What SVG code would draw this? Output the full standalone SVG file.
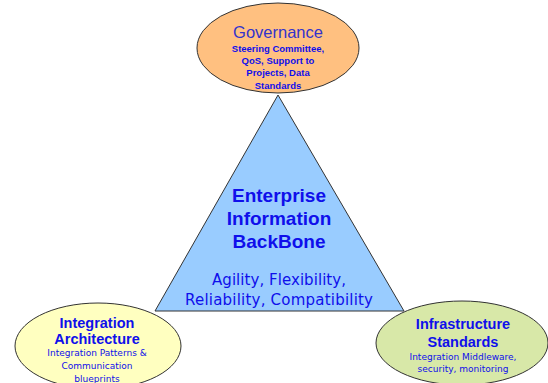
<svg xmlns="http://www.w3.org/2000/svg" width="548" height="383" viewBox="0 0 548 383">
<style>
.shape{stroke:#333333;stroke-width:1}
.t{font-family:"DejaVu Sans",Verdana,sans-serif;fill:#0F0FEB;text-anchor:middle}
.b{font-family:"Liberation Sans",Arial,sans-serif;font-weight:bold}
</style>
<rect width="548" height="383" fill="#FFFFFF"/>
<g id="connectors"></g>
<g id="backbone">
<polygon class="shape" points="278,95 155,311 404,311" fill="#99CCFF"/>
<text class="t b" x="279" y="202" font-size="19">Enterprise</text>
<text class="t b" x="279" y="225" font-size="19">Information</text>
<text class="t b" x="279" y="248" font-size="19">BackBone</text>
<text class="t" x="279" y="285" font-size="15" textLength="134">Agility, Flexibility,</text>
<text class="t" x="279" y="305" font-size="15" textLength="188">Reliability, Compatibility</text>
</g>
<g id="governance">
<ellipse class="shape" cx="278" cy="48" rx="81" ry="45" fill="#FFC080"/>
<text class="t" x="278" y="38" font-size="16.5" style="fill:#3333CC;font-family:'Liberation Sans',Arial,sans-serif">Governance</text>
<text class="t b" x="278" y="52" font-size="9.5">Steering Committee,</text>
<text class="t b" x="278" y="64" font-size="9.5">QoS, Support to</text>
<text class="t b" x="278" y="76" font-size="9.5">Projects, Data</text>
<text class="t b" x="278" y="89" font-size="9.5">Standards</text>
</g>
<g id="integration-architecture">
<ellipse class="shape" cx="98" cy="346" rx="83" ry="43" fill="#FFFFC0"/>
<text class="t b" x="97" y="328" font-size="14.5">Integration</text>
<text class="t b" x="97" y="344" font-size="14.5">Architecture</text>
<text class="t" x="97" y="356" font-size="9">Integration Patterns &amp;</text>
<text class="t" x="97" y="369" font-size="9">Communication</text>
<text class="t" x="97" y="382" font-size="9">blueprints</text>
</g>
<g id="infrastructure-standards">
<ellipse class="shape" cx="462" cy="343" rx="86" ry="42" fill="#D8E8A8"/>
<text class="t b" x="463" y="329" font-size="14.5">Infrastructure</text>
<text class="t b" x="463" y="347" font-size="14.5">Standards</text>
<text class="t" x="463" y="360" font-size="9">Integration Middleware,</text>
<text class="t" x="463" y="372" font-size="9">security, monitoring</text>
</g>
</svg>
